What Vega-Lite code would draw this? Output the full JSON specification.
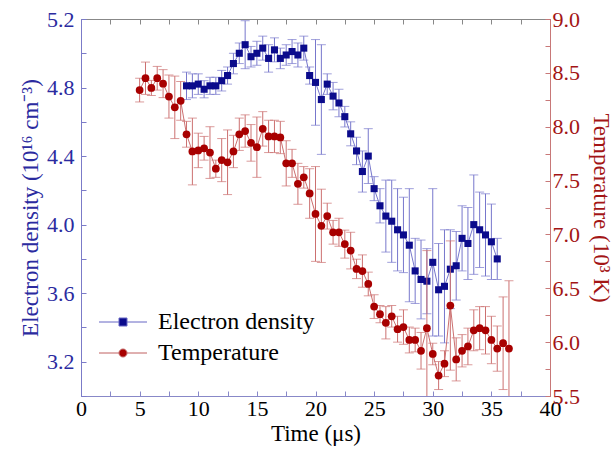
{
  "$schema": "https://vega.github.io/schema/vega-lite/v6.json",
  "width": 469,
  "height": 377,
  "autosize": {"type": "none"},
  "padding": {"left": 81, "top": 19, "right": 65, "bottom": 58},
  "background": "white",
  "config": {
    "view": {"stroke": "#8a8a8a", "strokeWidth": 1},
    "font": "Liberation Serif",
    "axis": {"labelFont": "Liberation Serif", "titleFont": "Liberation Serif", "labelFontSize": 22, "titleFontSize": 23, "titleFontWeight": "normal", "grid": false, "tickSize": -5, "labelFlush": false, "labelOverlap": false, "domain": true, "domainWidth": 1},
    "legend": {"labelFont": "Liberation Serif", "labelFontSize": 24, "labelColor": "black", "padding": 0, "symbolStrokeWidth": 1}
  },
  "datasets": {
    "density": [
      {"t": 9.0, "d": 4.81, "e": 0.08}, {"t": 9.5, "d": 4.81, "e": 0.07}, {"t": 10.0, "d": 4.82, "e": 0.06}, {"t": 10.5, "d": 4.79, "e": 0.05},
      {"t": 11.0, "d": 4.81, "e": 0.05}, {"t": 11.5, "d": 4.81, "e": 0.05}, {"t": 12.0, "d": 4.84, "e": 0.06}, {"t": 12.5, "d": 4.87, "e": 0.05},
      {"t": 13.0, "d": 4.94, "e": 0.06}, {"t": 13.5, "d": 5.00, "e": 0.06}, {"t": 14.0, "d": 5.05, "e": 0.14}, {"t": 14.5, "d": 4.98, "e": 0.06},
      {"t": 15.0, "d": 5.00, "e": 0.07}, {"t": 15.5, "d": 5.03, "e": 0.07}, {"t": 16.0, "d": 4.97, "e": 0.08}, {"t": 16.5, "d": 5.02, "e": 0.07},
      {"t": 17.0, "d": 4.97, "e": 0.06}, {"t": 17.5, "d": 4.99, "e": 0.06}, {"t": 18.0, "d": 5.01, "e": 0.07}, {"t": 18.5, "d": 4.99, "e": 0.07},
      {"t": 19.0, "d": 5.03, "e": 0.07}, {"t": 19.5, "d": 4.87, "e": 0.05}, {"t": 20.0, "d": 4.83, "e": 0.25}, {"t": 20.5, "d": 4.73, "e": 0.32},
      {"t": 21.0, "d": 4.82, "e": 0.06}, {"t": 21.5, "d": 4.75, "e": 0.08}, {"t": 22.0, "d": 4.71, "e": 0.08}, {"t": 22.5, "d": 4.63, "e": 0.06},
      {"t": 23.0, "d": 4.53, "e": 0.07}, {"t": 23.5, "d": 4.43, "e": 0.08}, {"t": 24.0, "d": 4.31, "e": 0.12}, {"t": 24.5, "d": 4.40, "e": 0.16},
      {"t": 25.0, "d": 4.21, "e": 0.07}, {"t": 25.5, "d": 4.11, "e": 0.10}, {"t": 26.0, "d": 4.05, "e": 0.21}, {"t": 26.5, "d": 4.02, "e": 0.24},
      {"t": 27.0, "d": 3.97, "e": 0.24}, {"t": 27.5, "d": 3.94, "e": 0.22}, {"t": 28.0, "d": 3.88, "e": 0.33}, {"t": 28.5, "d": 3.73, "e": 0.19},
      {"t": 29.0, "d": 3.68, "e": 0.23}, {"t": 29.5, "d": 3.67, "e": 0.19}, {"t": 30.0, "d": 3.78, "e": 0.43}, {"t": 30.5, "d": 3.62, "e": 0.27},
      {"t": 31.0, "d": 3.64, "e": 0.33}, {"t": 31.5, "d": 3.74, "e": 0.23}, {"t": 32.0, "d": 3.76, "e": 0.20}, {"t": 32.5, "d": 3.92, "e": 0.19},
      {"t": 33.0, "d": 3.89, "e": 0.21}, {"t": 33.5, "d": 4.00, "e": 0.29}, {"t": 34.0, "d": 3.97, "e": 0.22}, {"t": 34.5, "d": 3.94, "e": 0.24},
      {"t": 35.0, "d": 3.90, "e": 0.22}, {"t": 35.5, "d": 3.80, "e": 0.12}
    ],
    "temperature": [
      {"t": 5.0, "T": 8.34, "e": 0.11}, {"t": 5.5, "T": 8.45, "e": 0.15}, {"t": 6.0, "T": 8.36, "e": 0.07}, {"t": 6.5, "T": 8.45, "e": 0.11},
      {"t": 7.0, "T": 8.40, "e": 0.13}, {"t": 7.5, "T": 8.28, "e": 0.20}, {"t": 8.0, "T": 8.18, "e": 0.29}, {"t": 8.5, "T": 8.24, "e": 0.18},
      {"t": 9.0, "T": 7.93, "e": 0.12}, {"t": 9.5, "T": 7.77, "e": 0.31}, {"t": 10.0, "T": 7.78, "e": 0.16}, {"t": 10.5, "T": 7.80, "e": 0.11},
      {"t": 11.0, "T": 7.76, "e": 0.24}, {"t": 11.5, "T": 7.61, "e": 0.08}, {"t": 12.0, "T": 7.69, "e": 0.20}, {"t": 12.5, "T": 7.67, "e": 0.30},
      {"t": 13.0, "T": 7.77, "e": 0.15}, {"t": 13.5, "T": 7.93, "e": 0.15}, {"t": 14.0, "T": 7.96, "e": 0.15}, {"t": 14.5, "T": 7.85, "e": 0.17},
      {"t": 15.0, "T": 7.81, "e": 0.28}, {"t": 15.5, "T": 7.98, "e": 0.16}, {"t": 16.0, "T": 7.91, "e": 0.15}, {"t": 16.5, "T": 7.91, "e": 0.15},
      {"t": 17.0, "T": 7.90, "e": 0.15}, {"t": 17.5, "T": 7.66, "e": 0.21}, {"t": 18.0, "T": 7.66, "e": 0.13}, {"t": 18.5, "T": 7.47, "e": 0.19},
      {"t": 19.0, "T": 7.53, "e": 0.10}, {"t": 19.5, "T": 7.38, "e": 0.23}, {"t": 20.0, "T": 7.19, "e": 0.44}, {"t": 20.5, "T": 7.08, "e": 0.34},
      {"t": 21.0, "T": 7.17, "e": 0.12}, {"t": 21.5, "T": 7.02, "e": 0.11}, {"t": 22.0, "T": 7.02, "e": 0.13}, {"t": 22.5, "T": 6.91, "e": 0.13},
      {"t": 23.0, "T": 6.85, "e": 0.17}, {"t": 23.5, "T": 6.68, "e": 0.09}, {"t": 24.0, "T": 6.66, "e": 0.15}, {"t": 24.5, "T": 6.54, "e": 0.11},
      {"t": 25.0, "T": 6.33, "e": 0.11}, {"t": 25.5, "T": 6.26, "e": 0.08}, {"t": 26.0, "T": 6.18, "e": 0.15}, {"t": 26.5, "T": 6.24, "e": 0.10},
      {"t": 27.0, "T": 6.12, "e": 0.12}, {"t": 27.5, "T": 6.14, "e": 0.16}, {"t": 28.0, "T": 6.02, "e": 0.12}, {"t": 28.5, "T": 6.02, "e": 0.11},
      {"t": 29.0, "T": 5.92, "e": 0.17}, {"t": 29.5, "T": 6.13, "e": 0.72}, {"t": 30.0, "T": 5.89, "e": 0.10}, {"t": 30.5, "T": 5.69, "e": 0.13},
      {"t": 31.0, "T": 5.80, "e": 0.12}, {"t": 31.5, "T": 6.34, "e": 0.60}, {"t": 32.0, "T": 5.84, "e": 0.20}, {"t": 32.5, "T": 5.92, "e": 0.15},
      {"t": 33.0, "T": 5.96, "e": 0.17}, {"t": 33.5, "T": 6.11, "e": 0.19}, {"t": 34.0, "T": 6.13, "e": 0.20}, {"t": 34.5, "T": 6.11, "e": 0.22},
      {"t": 35.0, "T": 6.02, "e": 0.22}, {"t": 35.5, "T": 5.94, "e": 0.21}, {"t": 36.0, "T": 5.99, "e": 0.43}, {"t": 36.5, "T": 5.94, "e": 0.63}
    ]
  },
  "layer": [
    {
      "data": {"name": "density"},
      "encoding": {
        "x": {"field": "t", "type": "quantitative", "scale": {"domain": [0, 40], "nice": false},
          "axis": {"orient": "bottom", "values": [0, 2.5, 5, 7.5, 10, 12.5, 15, 17.5, 20, 22.5, 25, 27.5, 30, 32.5, 35, 37.5, 40],
            "labelExpr": "indexof(['0','5','10','15','20','25','30','35','40'], datum.label) >= 0 ? datum.label : ''", "format": "d", "title": "Time (μs)", "titleColor": "black", "labelColor": "black", "titleFontWeight": "normal",
            "domainColor": "#8888c8", "tickColor": "#8888c8", "labelPadding": 7, "titlePadding": 3}},
        "y": {"field": "d", "type": "quantitative", "scale": {"domain": [3.0, 5.2], "nice": false, "zero": false},
          "axis": {"orient": "left", "values": [3.0, 3.2, 3.4, 3.6, 3.8, 4.0, 4.2, 4.4, 4.6, 4.8, 5.0, 5.2], "format": ".1f",
            "labelExpr": "indexof(['3.2','3.6','4.0','4.4','4.8','5.2'], datum.label) >= 0 ? datum.label : ''",
            "title": "Electron density (10¹⁶ cm⁻³)", "titleColor": "#2b2b9f", "labelColor": "#2b2b9f", "titleFontWeight": "normal",
            "domainColor": "#7b7bc8", "tickColor": "#7b7bc8", "labelPadding": 12, "titlePadding": 4}}
      },
      "layer": [
        {
          "mark": {"type": "errorbar", "ticks": true, "size": 9, "thickness": 1, "color": "#7777cc", "clip": true},
          "encoding": {"yError": {"field": "e"}}
        },
        {
          "mark": {"type": "line", "color": "#7777cc", "strokeWidth": 1}
        },
        {
          "mark": {"type": "point", "shape": "square", "filled": true, "size": 50, "opacity": 1},
          "encoding": {
            "color": {"datum": "Electron density",
              "scale": {"domain": ["Electron density"], "range": ["#0b0b8c"]},
              "legend": {"orient": "none", "legendX": 30, "legendY": 291, "title": null,
                "symbolSize": 64, "labelOffset": 23,
                "symbolType": "M-6,0H-1M1,0H6M-1,-1H1V1H-1Z", "symbolStrokeColor": "#6666c4", "symbolFillColor": "#0b0b8c"}}
          }
        }
      ]
    },
    {
      "data": {"name": "temperature"},
      "encoding": {
        "x": {"field": "t", "type": "quantitative", "scale": {"domain": [0, 40], "nice": false},
          "axis": {"orient": "top", "values": [0, 2.5, 5, 7.5, 10, 12.5, 15, 17.5, 20, 22.5, 25, 27.5, 30, 32.5, 35, 37.5, 40],
            "labels": false, "title": null, "domainColor": "#888888", "tickColor": "#888888"}},
        "y": {"field": "T", "type": "quantitative", "scale": {"domain": [5.5, 9.0], "nice": false, "zero": false},
          "axis": {"orient": "right", "values": [5.5, 5.75, 6.0, 6.25, 6.5, 6.75, 7.0, 7.25, 7.5, 7.75, 8.0, 8.25, 8.5, 8.75, 9.0], "format": ".2f",
            "labelExpr": "indexof(['5.50','6.00','6.50','7.00','7.50','8.00','8.50','9.00'], datum.label) >= 0 ? slice(datum.label, 0, 3) : ''",
            "title": "Temperature (10³ K)", "titleColor": "#a31515", "labelColor": "#a31515", "titleFontWeight": "normal",
            "domainColor": "#c87878", "tickColor": "#c87878", "labelPadding": 7, "titlePadding": 9}}
      },
      "layer": [
        {
          "mark": {"type": "errorbar", "ticks": true, "size": 9, "thickness": 1, "color": "#cc7070", "clip": true},
          "encoding": {"yError": {"field": "e"}}
        },
        {
          "mark": {"type": "line", "color": "#cc7070", "strokeWidth": 1}
        },
        {
          "mark": {"type": "point", "shape": "circle", "filled": true, "size": 60, "opacity": 1},
          "encoding": {
            "color": {"datum": "Temperature",
              "scale": {"domain": ["Temperature"], "range": ["#a80000"]},
              "legend": {"orient": "none", "legendX": 30, "legendY": 322, "title": null,
                "symbolSize": 64, "labelOffset": 23,
                "symbolType": "M-6,0H-1M1,0H6M-1,0A1,1,0,1,1,1,0A1,1,0,1,1,-1,0Z", "symbolStrokeColor": "#c06060", "symbolFillColor": "#a80000"}}
          }
        }
      ]
    }
  ],
  "resolve": {"scale": {"y": "independent", "color": "independent"}, "axis": {"x": "independent"}}
}
